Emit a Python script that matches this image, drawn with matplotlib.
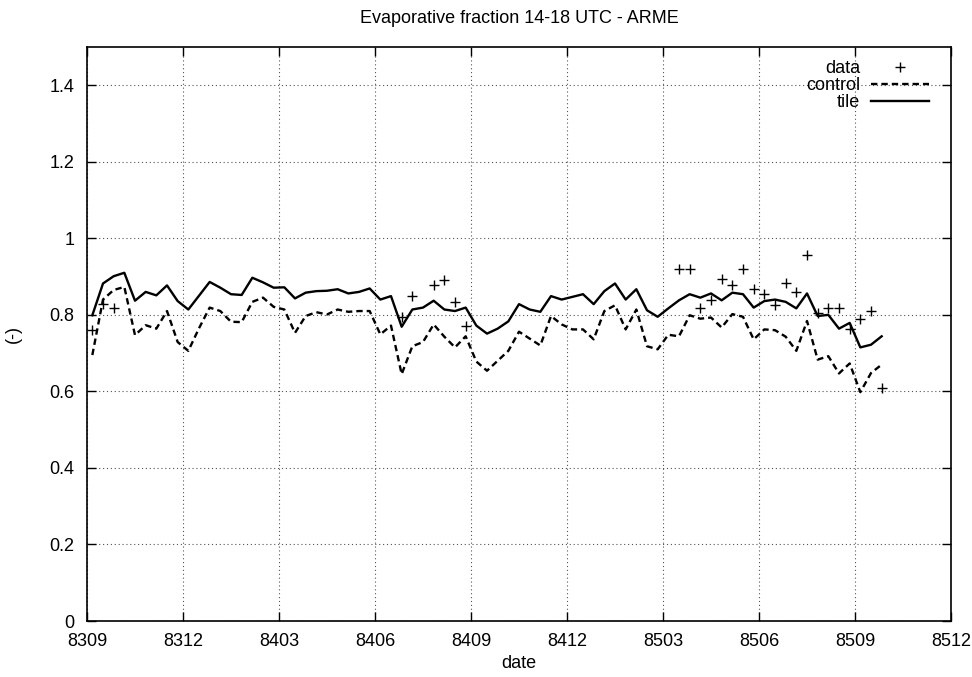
import numpy as np
import matplotlib
matplotlib.use('Agg')
import matplotlib.pyplot as plt

plt.rcParams['font.family'] = ['Liberation Sans', 'DejaVu Sans']

# dekad index (3 per month) starting Sep 1983
tick_labels = ['8309', '8312', '8403', '8406', '8409', '8412', '8503', '8506', '8509', '8512']
tick_dekads = [0, 9, 18, 27, 36, 45, 54, 63, 72, 81]

tile = [0.799, 0.882, 0.901, 0.910, 0.837, 0.860, 0.851, 0.877, 0.836, 0.814,
        0.850, 0.886, 0.871, 0.854, 0.852, 0.897, 0.885, 0.871, 0.872, 0.843,
        0.858, 0.862, 0.863, 0.867, 0.856, 0.860, 0.869, 0.840, 0.849, 0.769,
        0.814, 0.819, 0.837, 0.814, 0.810, 0.819, 0.772, 0.751, 0.764, 0.783,
        0.828, 0.814, 0.808, 0.849, 0.840, 0.847, 0.854, 0.828, 0.862, 0.882,
        0.840, 0.867, 0.812, 0.795, 0.817, 0.838, 0.854, 0.845, 0.856, 0.838,
        0.858, 0.854, 0.819, 0.836, 0.840, 0.834, 0.817, 0.856, 0.797, 0.800,
        0.764, 0.779, 0.715, 0.722, 0.744]

control = [0.695, 0.840, 0.865, 0.873, 0.747, 0.773, 0.764, 0.810, 0.729, 0.706,
           0.765, 0.819, 0.810, 0.782, 0.781, 0.834, 0.845, 0.821, 0.814, 0.753,
           0.797, 0.807, 0.801, 0.814, 0.808, 0.810, 0.810, 0.749, 0.772, 0.645,
           0.718, 0.729, 0.775, 0.743, 0.715, 0.744, 0.678, 0.654, 0.680, 0.706,
           0.756, 0.738, 0.720, 0.797, 0.775, 0.762, 0.762, 0.736, 0.810, 0.825,
           0.762, 0.814, 0.718, 0.710, 0.748, 0.744, 0.799, 0.790, 0.793, 0.767,
           0.802, 0.795, 0.736, 0.762, 0.760, 0.743, 0.706, 0.784, 0.683, 0.692,
           0.647, 0.673, 0.598, 0.648, 0.670]

data_idx = [0, 1, 2, 29, 30, 32, 33, 34, 35, 55, 56, 57, 58, 59, 60, 61, 62,
            63, 64, 65, 66, 67, 68, 69, 70, 71, 72, 73, 74]
data_val = [0.760, 0.828, 0.819, 0.795, 0.848, 0.878, 0.891, 0.834, 0.772,
            0.921, 0.921, 0.819, 0.838, 0.893, 0.877, 0.921, 0.867, 0.854,
            0.827, 0.882, 0.859, 0.956, 0.804, 0.818, 0.818, 0.762, 0.788,
            0.810, 0.608]

x = np.arange(len(tile)) + 0.5
xd = np.array(data_idx) + 0.5

fig = plt.figure(figsize=(9.72, 6.77), dpi=100)
ax = fig.add_axes([87 / 972, 56 / 677, 864 / 972, 574 / 677])

ax.plot(xd, data_val, linestyle='none', marker='+', color='black',
        markersize=6.5, markeredgewidth=1, label='data')
ax.plot(x, control, color='black', linewidth=1.7, dashes=(2.7, 1.7), label='control')
ax.plot(x, tile, color='black', linewidth=1.7, label='tile')

ax.set_xlim(0, 81)
ax.set_ylim(0, 1.5)
ax.set_xticks(tick_dekads)
ax.set_xticklabels(tick_labels)
yt = [0, 0.2, 0.4, 0.6, 0.8, 1.0, 1.2, 1.4]
ax.set_yticks(yt)
ax.set_yticklabels(['%g' % v for v in yt])
ax.tick_params(direction='in', length=6.5, width=1, top=True, right=True,
               labelsize=13, colors='black')
ax.tick_params(axis='x', pad=8.5)
ax.tick_params(axis='y', pad=9)
ax.grid(True, color='#555555', linestyle=(0, (1, 2.5)), linewidth=0.8)
for s in ax.spines.values():
    s.set_linewidth(1.2)

ax.set_title('Evaporative fraction 14-18 UTC - ARME', fontsize=13, pad=17)
ax.set_xlabel('date', fontsize=13, labelpad=4)
ax.set_ylabel('(-)', fontsize=13, labelpad=20)

leg = ax.legend(loc='upper right', markerfirst=False, frameon=False, fontsize=13,
                handlelength=3.2, handletextpad=0.6, labelspacing=0.0,
                bbox_to_anchor=(1 - 15 / 864, 1 - 6 / 574), borderaxespad=0)

fig.savefig('out.png', dpi=100)
